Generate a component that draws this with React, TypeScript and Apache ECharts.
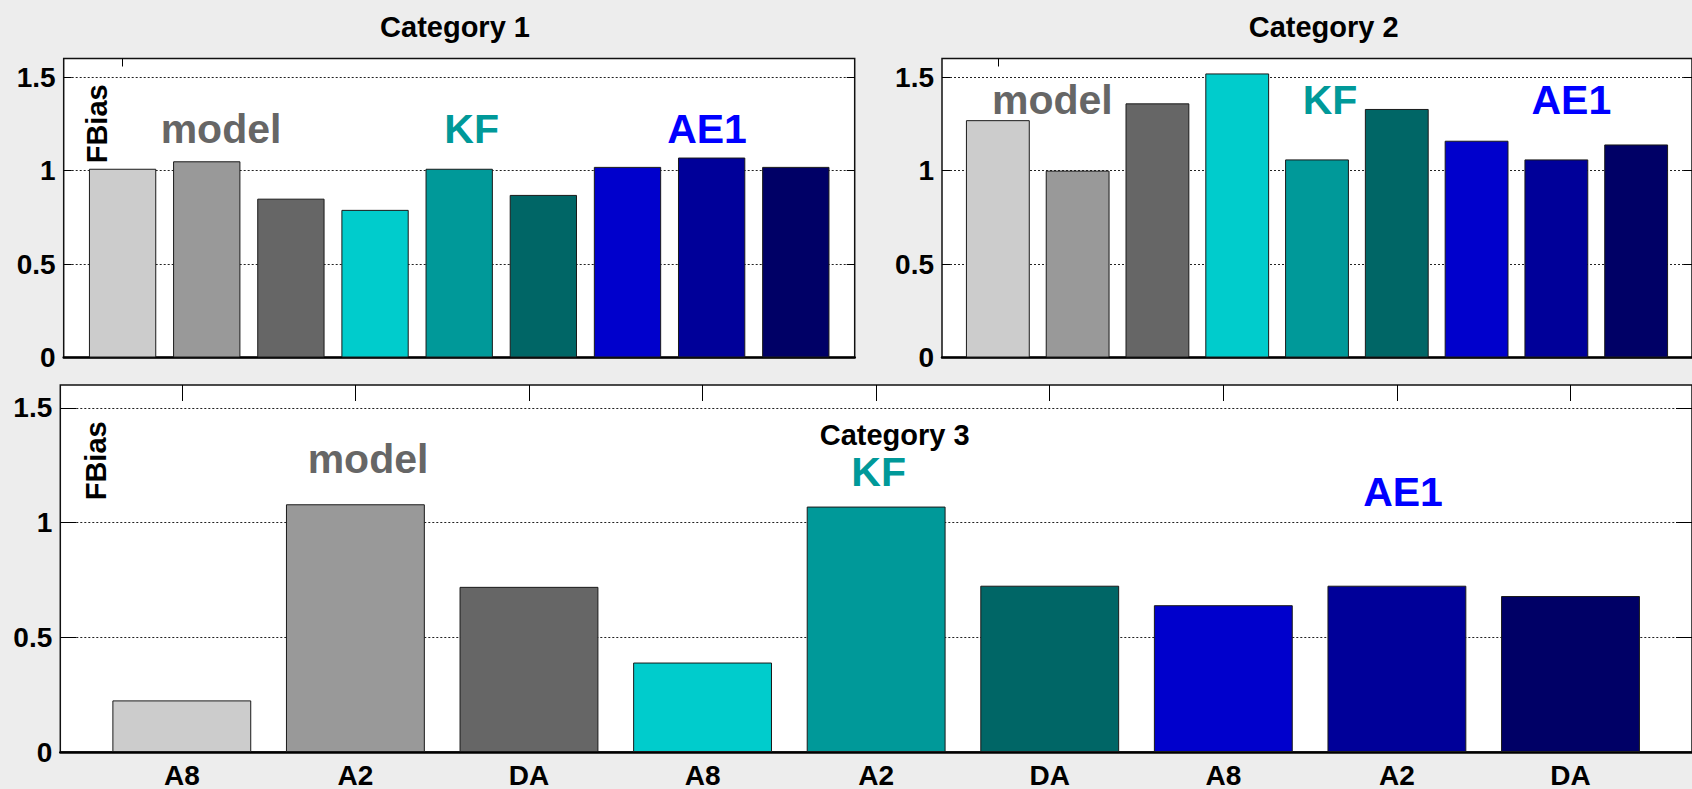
import React, { useEffect, useRef } from "react";
import * as echarts from "echarts";

// Bar order: model (A8, A2, DA), KF (A8, A2, DA), AE1 (A8, A2, DA)
const barPositions = [1, 2, 3, 4, 5, 6, 7, 8, 9];
const xLabels = ["A8", "A2", "DA", "A8", "A2", "DA", "A8", "A2", "DA"];
const barColors = [
  "#cccccc", "#999999", "#666666",
  "#00cccc", "#009999", "#006666",
  "#0000cc", "#000099", "#000066",
];
const category1Values = [1.01, 1.05, 0.85, 0.79, 1.01, 0.87, 1.02, 1.07, 1.02];
const category2Values = [1.27, 1.0, 1.36, 1.52, 1.06, 1.33, 1.16, 1.06, 1.14];
const category3Values = [0.225, 1.08, 0.72, 0.39, 1.07, 0.725, 0.64, 0.725, 0.68];
const yTicks = [0, 0.5, 1, 1.5];
const panelTitles = ["Category 1", "Category 2", "Category 3"];
const groupNames = ["model", "KF", "AE1"];
const groupColors = ["#666666", "#009999", "#0000ff"];
const yAxisName = "FBias";

const FONT = '"Liberation Sans", Arial, Helvetica, sans-serif';
const X_MIN = 0.3;
const X_MAX = 9.7;
const Y_MAX = 1.6;

type Panel = {
  left: number;
  top: number;
  width: number;
  height: number;
  tickLen: number;
  topTicks: number[];
  values: number[];
  showXLabels: boolean;
};

const panels: Panel[] = [
  { left: 63.7, top: 58.5, width: 791, height: 299, tickLen: 8, topTicks: [1], values: category1Values, showXLabels: false },
  { left: 942, top: 58.5, width: 767, height: 299, tickLen: 8, topTicks: [1], values: category2Values, showXLabels: false },
  { left: 60.3, top: 385, width: 1650.6, height: 367, tickLen: 16, topTicks: barPositions, values: category3Values, showXLabels: true },
];

// Text placements in pixels
const titlePos = [
  [455, 26.6],
  [1323.7, 26.6],
  [894.7, 434.9],
];
const groupPos = [
  [[221, 129], [471.7, 129], [707, 129]],
  [[1052.3, 99.7], [1330, 99.7], [1571.3, 99.7]],
  [[368, 459], [878.7, 472.4], [1403, 492.4]],
];
const fbiasPos = [
  [96.5, 123.8],
  [95.8, 460.8],
];

export default function App() {
  const ref = useRef<HTMLDivElement>(null);

  useEffect(() => {
    if (!ref.current) return;
    const chart = echarts.init(ref.current, undefined, { renderer: "svg" });

    const grid: any[] = [];
    const xAxis: any[] = [];
    const yAxis: any[] = [];
    const series: any[] = [];

    panels.forEach((p, i) => {
      grid.push({
        left: p.left,
        top: p.top,
        width: p.width,
        height: p.height,
        show: true,
        backgroundColor: "#ffffff",
        borderColor: "#111111",
        borderWidth: 1.5,
        containLabel: false,
      });
      // bottom x axis
      xAxis.push({
        type: "value",
        gridIndex: i,
        min: X_MIN,
        max: X_MAX,
        position: "bottom",
        axisLine: { show: true, onZero: false, lineStyle: { color: "#000", width: 2.5 } },
        axisTick: {
          show: true,
          inside: true,
          length: p.tickLen,
          customValues: barPositions,
          lineStyle: { color: "#000", width: 1 },
        },
        axisLabel: {
          show: p.showXLabels,
          customValues: barPositions,
          formatter: (v: number) => xLabels[Math.round(v) - 1] ?? "",
          fontFamily: FONT,
          fontWeight: "bold",
          fontSize: 28,
          color: "#000",
          margin: 9,
        },
        splitLine: { show: false },
      });
      // top x axis (tick marks only)
      xAxis.push({
        type: "value",
        gridIndex: i,
        min: X_MIN,
        max: X_MAX,
        position: "top",
        axisLine: { show: false, onZero: false },
        axisTick: {
          show: true,
          inside: true,
          length: p.tickLen,
          customValues: p.topTicks,
          lineStyle: { color: "#000", width: 1 },
        },
        axisLabel: { show: false },
        splitLine: { show: false },
      });
      // left y axis
      yAxis.push({
        type: "value",
        gridIndex: i,
        min: 0,
        max: Y_MAX,
        interval: 0.5,
        position: "left",
        axisLine: { show: false, onZero: false },
        axisTick: {
          show: true,
          inside: true,
          length: p.tickLen,
          customValues: yTicks,
          lineStyle: { color: "#000", width: 1 },
        },
        axisLabel: {
          show: true,
          customValues: yTicks,
          fontFamily: FONT,
          fontWeight: "bold",
          fontSize: 28,
          color: "#000",
          margin: 8,
        },
        splitLine: {
          show: true,
          lineStyle: { color: "#222", width: 1, type: [2, 2] },
        },
      });
      // right y axis (tick marks only)
      yAxis.push({
        type: "value",
        gridIndex: i,
        min: 0,
        max: Y_MAX,
        interval: 0.5,
        position: "right",
        axisLine: { show: false, onZero: false },
        axisTick: {
          show: true,
          inside: true,
          length: p.tickLen,
          customValues: yTicks,
          lineStyle: { color: "#000", width: 1 },
        },
        axisLabel: { show: false },
        splitLine: { show: false },
      });

      series.push({
        type: "bar",
        name: panelTitles[i],
        xAxisIndex: i * 2,
        yAxisIndex: i * 2,
        barWidth: "80%",
        data: barPositions.map((x, j) => ({
          value: [x, p.values[j]],
          itemStyle: { color: barColors[j] },
        })),
        itemStyle: { borderColor: "#1a1a1a", borderWidth: 1 },
      });
    });

    const graphic: any[] = [];
    panelTitles.forEach((t, i) => {
      graphic.push({
        type: "text",
        x: titlePos[i][0],
        y: titlePos[i][1],
        z: 100,
        style: {
          text: t,
          fill: "#000",
          font: `bold 29px ${FONT}`,
          align: "center",
          verticalAlign: "middle",
        },
      });
      groupNames.forEach((g, k) => {
        graphic.push({
          type: "text",
          x: groupPos[i][k][0],
          y: groupPos[i][k][1],
          z: 100,
          style: {
            text: g,
            fill: groupColors[k],
            font: `bold 41px ${FONT}`,
            align: "center",
            verticalAlign: "middle",
          },
        });
      });
    });
    fbiasPos.forEach(([x, y]) => {
      graphic.push({
        type: "text",
        x,
        y,
        rotation: Math.PI / 2,
        z: 100,
        style: {
          text: yAxisName,
          fill: "#000",
          font: `bold 29px ${FONT}`,
          align: "center",
          verticalAlign: "middle",
        },
      });
    });

    chart.setOption({
      animation: false,
      backgroundColor: "#ededed",
      grid,
      xAxis,
      yAxis,
      series,
      graphic,
    });

    return () => chart.dispose();
  }, []);

  return (
    <div
      ref={ref}
      style={{ position: "absolute", left: 0, top: 0, width: 1692, height: 789 }}
    />
  );
}
